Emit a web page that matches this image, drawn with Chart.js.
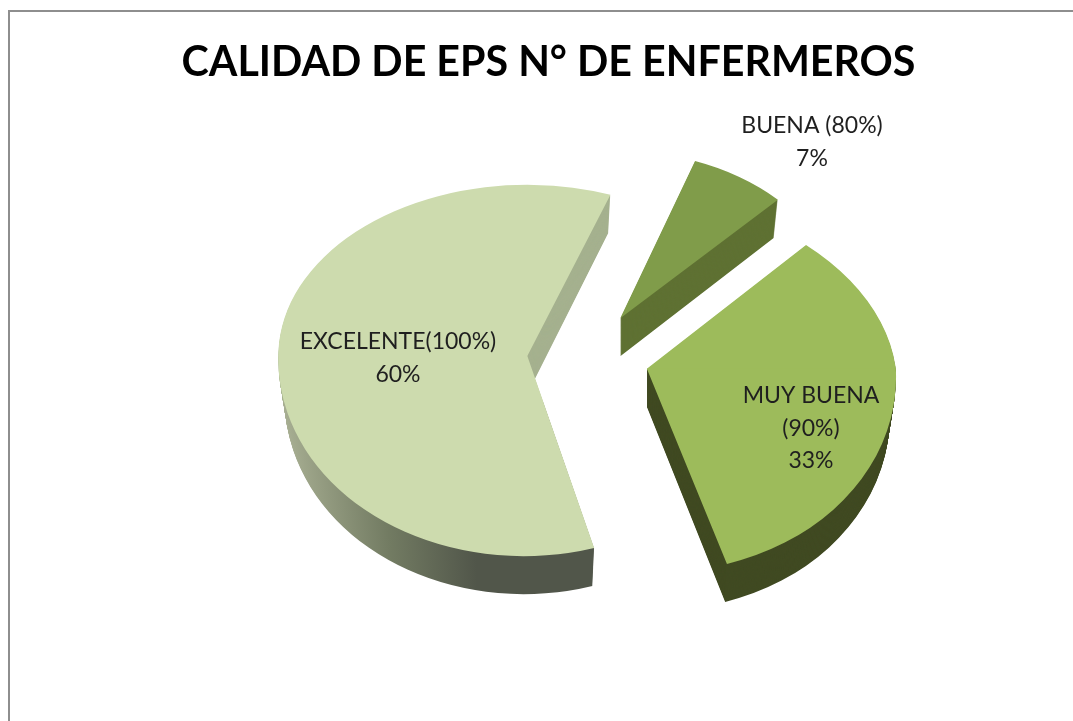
<!DOCTYPE html>
<html>
<head>
<meta charset="utf-8">
<title>Calidad de EPS</title>
<script src="https://cdn.jsdelivr.net/npm/chart.js@4/dist/chart.umd.min.js"></script>
<style>
    html, body { margin: 0; padding: 0; background: #fff; overflow: hidden; }
    #frame { position: absolute; left: 8px; top: 10px; width: 1200px; height: 900px; border: 2px solid #8e8e8e; }
    #chart { position: absolute; left: 0; top: 0; }
</style>
</head>
<body>
<div id="frame"></div>
<canvas id="chart" width="1073" height="721"></canvas>
<script>
// Chart data
const categories = ['EXCELENTE(100%)', 'BUENA (80%)', 'MUY BUENA (90%)'];
const categoryLines = [['EXCELENTE(100%)'], ['BUENA (80%)'], ['MUY BUENA', '(90%)']];
const shares = [60, 7, 33];
const topColors = ['#cddbae', '#809c4a', '#9dbb5b'];
const wallColors = ['#a5b18f', '#5f7133', '#404a22'];

// Fake 3D geometry
const pieCx = 588;
const pieCy = 356;
const pieRadius = 249;
const explode = 60.7;
const tiltUp = 0.675;
const tiltDown = 0.8;
const depth = 38;
const wallTaper = 0.025;
const labelSpots = [[398, 342], [812, 126], [811, 396]];

// Perspective fudge per slice: squeeze and shear above / below the tip
const sliceViews = [
    { sx: 1, up: 0.687, down: 0.804, shearUp: 0, shearDown: -0.02, dy: 1 },
    { sx: 0.9, up: 0.67, down: 0.8, shearUp: 0, shearDown: 0, dy: -3 },
    { sx: 1, up: 0.7, down: 0.817, shearUp: 0.129, shearDown: 0.048, dy: 1 }
];

// Draw one arc with the upper and lower part squeezed by a different amount
function drawTilted(ctx, arc, i, fill, shiftY, clipTop, clipBottom) {
    const view = sliceViews[i];
    const half = (arc.startAngle + arc.endAngle) / 2;
    const tipOffset = Math.sin(half) * explode;
    const tipX = pieCx + Math.cos(half) * explode;
    const tipY = pieCy + tipOffset * (tipOffset < 0 ? tiltUp : tiltDown) + view.dy + shiftY;
    // the bottom of the wall is a little narrower than the top face
    const sx = view.sx * (1 - wallTaper * shiftY / depth);
    const copy = Object.create(arc);
    copy.options = Object.assign({}, arc.options, { backgroundColor: fill });

    [[view.up, view.shearUp, -2000, tipY + 0.3], [view.down, view.shearDown, tipY - 0.3, 2000]].forEach(part => {
        const top = Math.max(part[2], clipTop);
        const bottom = Math.min(part[3], clipBottom);
        if (bottom <= top) return;
        ctx.save();
        ctx.beginPath();
        ctx.rect(0, top, 1073, bottom - top);
        ctx.clip();
        ctx.translate(tipX, tipY);
        ctx.transform(sx, 0, part[1] * part[0], part[0], 0, 0);
        ctx.translate(-arc.x, -arc.y);
        copy.draw(ctx);
        ctx.restore();
    });
}

const pie3d = {
    id: 'pie3d',
    beforeDatasetsDraw(chart) {
        const ctx = chart.ctx;
        const arcs = chart.getDatasetMeta(0).data;

        // Side wall of the big slice goes from light to dark, x is relative to the slice tip
        const half = (arcs[0].startAngle + arcs[0].endAngle) / 2;
        const wallShift = pieCx + Math.cos(half) * explode - arcs[0].x;
        const bigWall = ctx.createLinearGradient(283 - wallShift, 0, 480 - wallShift, 0);
        bigWall.addColorStop(0, '#a7ae92');
        bigWall.addColorStop(0.55, '#727b62');
        bigWall.addColorStop(1, '#51564a');

        arcs.forEach((arc, i) => {
            for (let d = depth; d > 0; d--) {
                if (i === 0) {
                    drawTilted(ctx, arc, i, wallColors[0], d, -2000, 401);
                    drawTilted(ctx, arc, i, bigWall, d, 401, 2000);
                } else {
                    drawTilted(ctx, arc, i, wallColors[i], d, -2000, 2000);
                }
            }
            drawTilted(ctx, arc, i, topColors[i], 0, -2000, 2000);
        });

        // Slice labels
        ctx.save();
        ctx.fillStyle = '#1f1f1f';
        ctx.font = '23px Lato';
        ctx.textAlign = 'center';
        ctx.textBaseline = 'middle';
        categoryLines.forEach((lines, i) => {
            const rows = lines.concat(shares[i] + '%');
            rows.forEach((row, r) => {
                ctx.fillText(row, labelSpots[i][0], labelSpots[i][1] + r * 32.5);
            });
        });
        ctx.restore();
        return false;
    }
};

new Chart(document.getElementById('chart'), {
    type: 'pie',
    data: {
        labels: categories,
        datasets: [{
            data: shares,
            backgroundColor: topColors,
            borderWidth: 0,
            radius: pieRadius,
            rotation: 163.5
        }]
    },
    options: {
        responsive: false,
        animation: false,
        layout: { padding: { left: 24 } },
        plugins: {
            legend: { display: false },
            tooltip: { enabled: false },
            title: {
                display: true,
                text: 'CALIDAD DE EPS N° DE ENFERMEROS',
                color: '#000',
                font: { family: 'Lato', size: 41.2, weight: 'bold' },
                padding: { top: 38, bottom: 0 }
            }
        }
    },
    plugins: [pie3d]
});
</script>
</body>
</html>
